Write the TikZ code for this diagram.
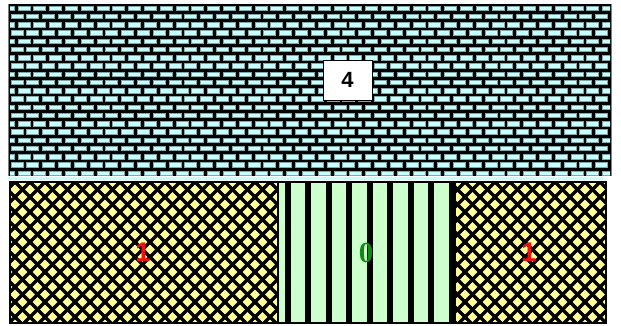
\documentclass[tikz,border=0pt]{standalone}
\usepackage{fontspec}
\usepackage{xcolor}
\usepackage{tikz}
\newfontfamily\labelsans{Liberation Sans}
\newfontfamily\labelserif{Liberation Serif}
\definecolor{brickfill}{HTML}{C8FFFF}
\definecolor{brickedge}{HTML}{7FA8A8}
\definecolor{hatchfill}{HTML}{FFFF9C}
\definecolor{stripefill}{HTML}{CCFFCC}
\definecolor{labelred}{HTML}{F01010}
\definecolor{labelgreen}{HTML}{108A10}
\tikzset{
    brick/.style={
        fill=brickfill, draw=brickedge, line width=0.8pt
    },
    hatch line/.style={
        draw=black, line width=3.4pt
    },
    region border/.style={
        draw=black, line width=1.2pt
    },
    count box/.style={
        rectangle, draw=black, fill=white, line width=0.6pt,
        minimum width=49pt, minimum height=40pt, inner sep=0pt,
        font=\labelsans\bfseries\fontsize{22}{26}\selectfont
    },
    count label/.style={
        inner sep=0pt, font=\labelsans\bfseries\fontsize{27}{31}\selectfont,
        text=#1
    },
}

\begin{document}
\begin{tikzpicture}[x=1pt, y=-1pt]
    \useasboundingbox (0,0) rectangle (621,325);

    % Brick wall
    \fill[black] (8,4) rectangle (612,176);
    \draw[gray, line width=1.5pt] (8.5,4) -- (8.5,176);
    \draw[gray, line width=1.5pt] (611.5,4) -- (611.5,176);
    \begin{scope}
        \clip (10,5) rectangle (610,175);
        \foreach \r in {0,...,20} {
            \pgfmathsetmacro{\yy}{6+\r*8.25}
            \pgfmathsetmacro{\xo}{2.2-7*mod(\r,2)}
            \foreach \c in {0,...,39}
                \draw[brick] (\xo+\c*15.8,\yy) rectangle ++(12,4.5);
        }
    \end{scope}
    \fill[brickfill] (8,177) rectangle (604,180);

    % Trellis regions
    \foreach \xa/\xb in {10/278, 455/606} {
        \begin{scope}
            \clip (\xa,182) rectangle (\xb,323);
            \fill[hatchfill] (\xa,182) rectangle (\xb,323);
            \foreach \k in {-12,...,50} {
                \draw[hatch line] (\k*15,182) -- ++(150,150);
                \draw[hatch line] (\k*15,182) -- ++(-150,150);
            }
        \end{scope}
        \draw[region border] (\xa,182) rectangle (\xb,323);
    }

    % Striped region
    \fill[stripefill] (278,182) rectangle (455,323);
    \foreach \i in {0,...,8}
        \fill[black] (284.5+\i*20.5,182) rectangle ++(6,141);
    \draw[region border] (278,182) rectangle (455,323);

    % Labels
    \node[count box] (wallcount) at (347.5,80) {4};
    \node[count label=labelred] (leftcount) at (143,252.5) {1};
    \node[count label=labelgreen, font=\labelserif\bfseries\fontsize{29}{33}\selectfont] (midcount) at (366,253) {0};
    \node[count label=labelred] (rightcount) at (529,252.5) {1};
\end{tikzpicture}
\end{document}
